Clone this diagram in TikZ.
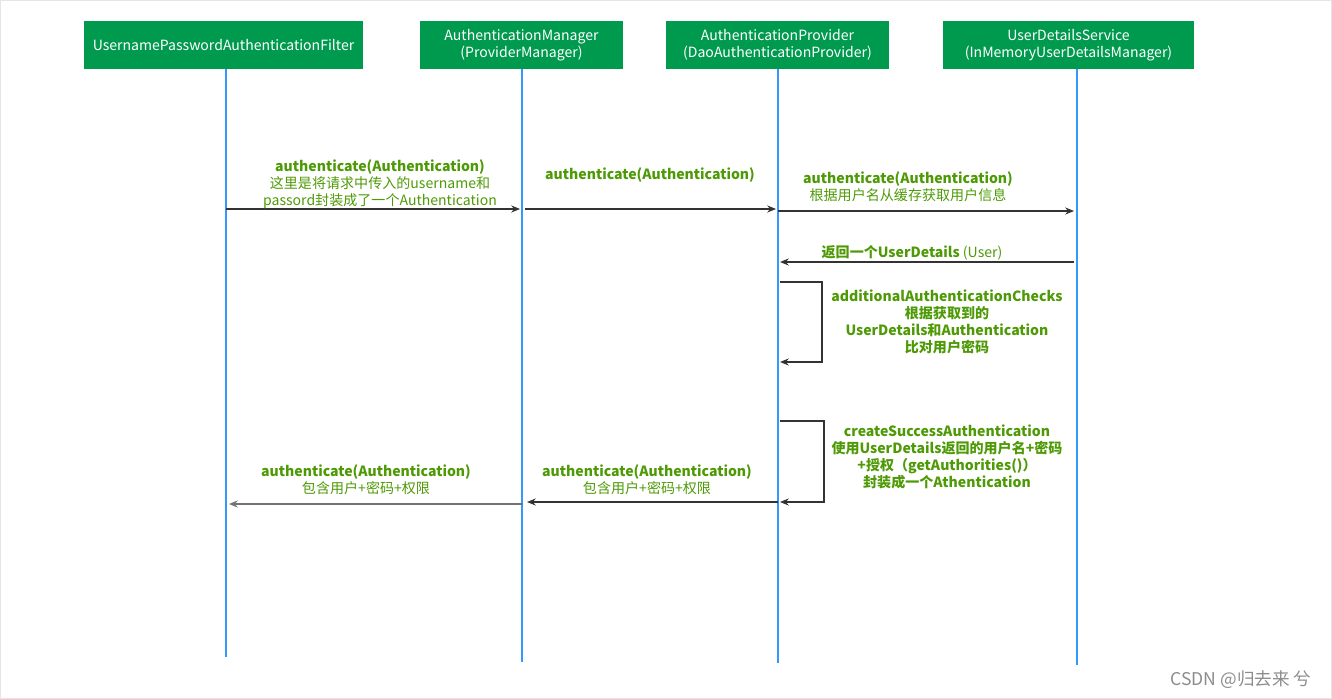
\documentclass[tikz,border=0pt]{standalone}
\usepackage{fontspec}
\setmainfont{Noto Sans CJK SC}
\usetikzlibrary{arrows.meta}
\definecolor{boxgreen}{RGB}{0,154,78}
\definecolor{msggreen}{RGB}{78,154,6}
\definecolor{lifeblue}{RGB}{51,153,255}
\definecolor{msgline}{RGB}{51,51,51}

\begin{document}
\begin{tikzpicture}[x=0.02cm,y=-0.02cm,
  actor/.style={fill=boxgreen,text=white,minimum height=0.96cm,inner sep=0pt,align=center,font=\fontsize{8}{9.6}\selectfont},
  lifeline/.style={lifeblue,line width=0.7pt},
  msg/.style={msgline,line width=0.6pt,-{Stealth[length=5pt,width=4pt]}},
  note/.style={text=msggreen,align=center,font=\fontsize{8}{9.8}\selectfont}]
\useasboundingbox (0,0) rectangle (1332,699);
\draw[black!10,line width=1.2pt] (0,0) rectangle (1332,699);

% participants
\node[actor,minimum width=5.58cm] (filter) at (223.5,45) {UsernamePasswordAuthenticationFilter};
\node[actor,minimum width=4.06cm] (manager) at (521.5,45) {AuthenticationManager\\(ProviderManager)};
\node[actor,minimum width=4.46cm] (provider) at (777.5,45) {AuthenticationProvider\\(DaoAuthenticationProvider)};
\node[actor,minimum width=5.02cm] (service) at (1068.5,45) {UserDetailsService\\(InMemoryUserDetailsManager)};

% lifelines
\coordinate (filterend) at (226,657);
\coordinate (managerend) at (522,662);
\coordinate (providerend) at (778,663);
\coordinate (serviceend) at (1077,665);
\draw[lifeline] (filter.south -| filterend) -- (filterend);
\draw[lifeline] (manager.south -| managerend) -- (managerend);
\draw[lifeline] (provider.south -| providerend) -- (providerend);
\draw[lifeline] (service.south -| serviceend) -- (serviceend);

% requests
\coordinate (m1a) at (226,209);
\coordinate (m1b) at (520,209);
\coordinate (m2a) at (525,209);
\coordinate (m2b) at (776,209);
\coordinate (m3a) at (778,211);
\coordinate (m3b) at (1074,211);
\coordinate (m4a) at (1074,262);
\coordinate (m4b) at (780,262);
\draw[msg] (m1a) -- (m1b);
\draw[msg] (m2a) -- (m2b);
\draw[msg] (m3a) -- (m3b);
\draw[msg] (m4a) -- (m4b);

\node[note] (n1) at (380,184) {\textbf{authenticate(Authentication)}\\这里是将请求中传入的username和\\passord封装成了一个Authentication};
\node[note] (n2) at (650,175) {\textbf{authenticate(Authentication)}};
\node[note] (n3) at (908,186.5) {\textbf{authenticate(Authentication)}\\根据用户名从缓存获取用户信息};
\node[note] (n4) at (912,253) {\textbf{返回一个UserDetails} (User)};

% self calls
\coordinate (chka) at (780,282);
\coordinate (chkb) at (780,362);
\draw[msg] (chka) -- (822,282) -- (822,362) -- (chkb);
\node[note,font=\fontsize{8}{9.8}\selectfont\bfseries] (n5) at (947,322) {additionalAuthenticationChecks\\根据获取到的\\UserDetails和Authentication\\比对用户密码};

\coordinate (crta) at (780,421);
\coordinate (crtb) at (780,502);
\draw[msg] (crta) -- (824,421) -- (824,502) -- (crtb);
\node[note,font=\fontsize{8}{9.8}\selectfont\bfseries] (n6) at (947,457) {createSuccessAuthentication\\使用UserDetails返回的用户名+密码\\+授权（getAuthorities()）\\封装成一个Athentication};

% responses
\coordinate (r1a) at (778,502);
\coordinate (r1b) at (527,502);
\coordinate (r2a) at (523,504);
\coordinate (r2b) at (229,504);
\draw[msg] (r1a) -- (r1b);
\draw[msg,black!55,line width=0.9pt] (r2a) -- (r2b);
\node[note] (n7) at (647,479.5) {\textbf{authenticate(Authentication)}\\包含用户+密码+权限};
\node[note] (n8) at (366,479.5) {\textbf{authenticate(Authentication)}\\包含用户+密码+权限};

\node[text=black!45,font=\fontsize{10}{11}\selectfont] (mark) at (1241,680) {CSDN @归去来 兮};
\end{tikzpicture}
\end{document}
